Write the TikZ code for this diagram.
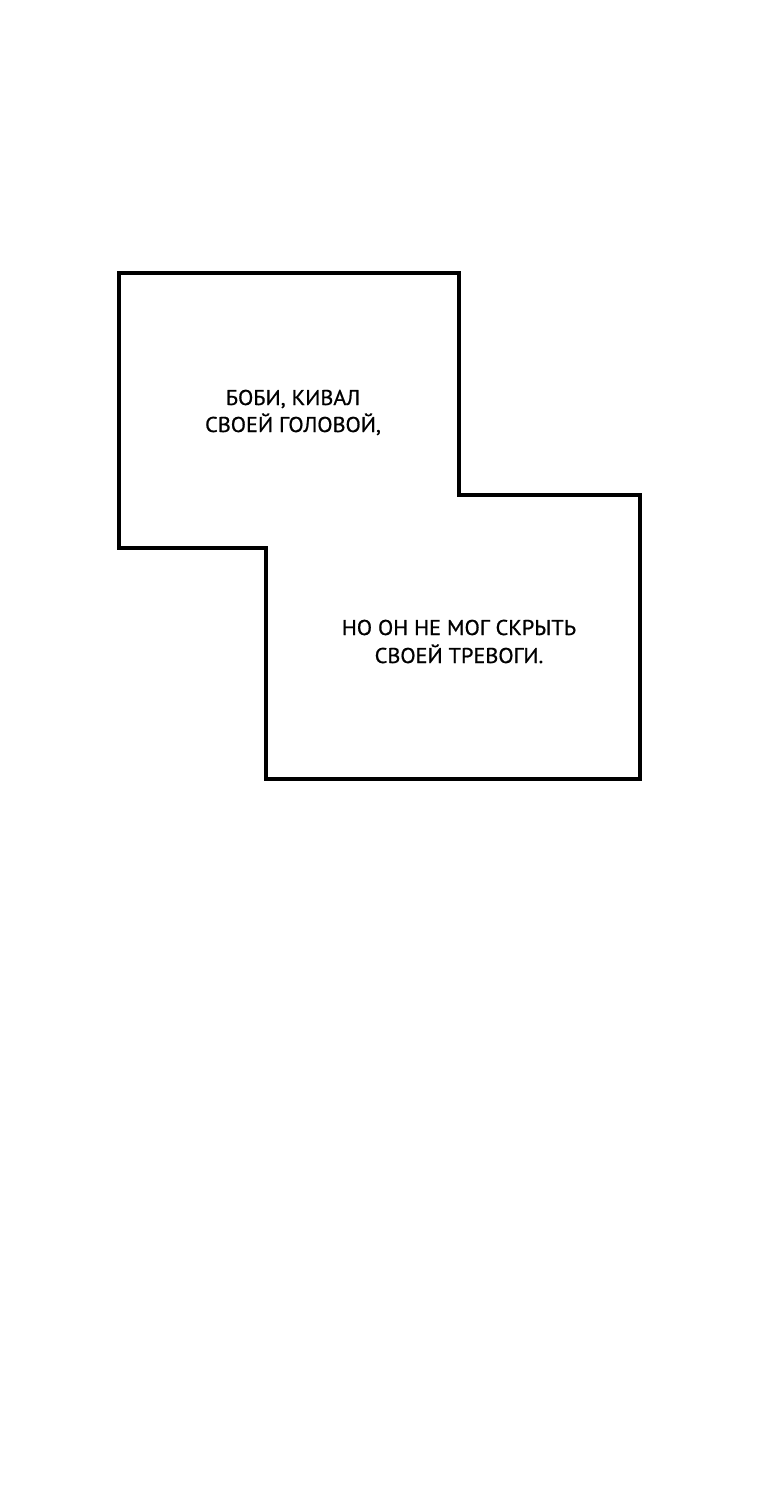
\documentclass[tikz,border=0pt]{standalone}
\usepackage{fontspec}
\setmainfont{PT Sans}[FakeStretch=1.04,FakeBold=0.8]
\begin{document}
\begin{tikzpicture}[x=1pt,y=-1pt,
  panel/.style={line width=3.5pt, line join=miter},
  caption/.style={align=center, font=\fontsize{21.4}{27}\selectfont, inner sep=0pt, anchor=base}]
\useasboundingbox (0,0) rectangle (760,1499);
\fill[white] (0,0) rectangle (760,1499);
\draw[panel] (119,273) -- (459,273) -- (459,495) -- (640,495) -- (640,779)
  -- (266,779) -- (266,548) -- (119,548) -- cycle;
\node[caption] (t1) at (293,432) {БОБИ, КИВАЛ\\СВОЕЙ ГОЛОВОЙ,};
\node[caption, font=\fontsize{21.4}{28}\selectfont] (t2) at (459,663) {НО ОН НЕ МОГ СКРЫТЬ\\СВОЕЙ ТРЕВОГИ.};
\end{tikzpicture}
\end{document}
